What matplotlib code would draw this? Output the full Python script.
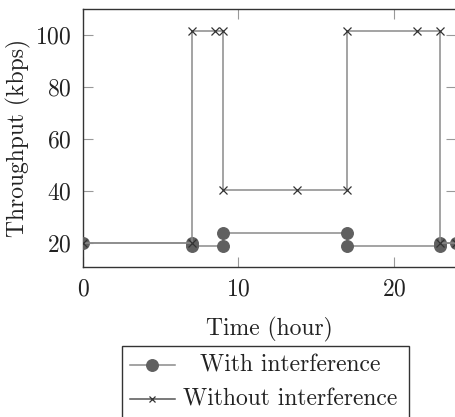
import matplotlib
matplotlib.use("Agg")
import matplotlib.pyplot as plt
from matplotlib.lines import Line2D
from matplotlib.patches import Rectangle

# Data
with_x = [0, 7, 7, 9, 9, 17, 17, 23, 23, 24]
with_y = [20, 20, 19, 19, 24, 24, 19, 19, 20, 20]
without_x = [0, 7, 7, 8.5, 9, 9, 13.8, 17, 17, 21.5, 23, 23, 24]
without_y = [20, 20, 101.5, 101.5, 101.5, 40.5, 40.5, 40.5, 101.5, 101.5, 101.5, 20, 20]
xticks = [0, 10, 20]
yticks = [20, 40, 60, 80, 100]
labels = ["With interference", "Without interference"]

plt.rcParams['font.family'] = ['cmr10', 'DejaVu Serif']
plt.rcParams['axes.formatter.use_mathtext'] = True
plt.rcParams['text.color'] = '#222222'
plt.rcParams['xtick.labelcolor'] = '#222222'
plt.rcParams['ytick.labelcolor'] = '#222222'
plt.rcParams['axes.labelcolor'] = '#222222'
FS = 17

W, H = 455, 417
fig = plt.figure(figsize=(W / 100, H / 100), dpi=100)
ax = fig.add_axes([83 / W, 1 - 267 / H, (456 - 83) / W, (267 - 9) / H])

line_col = '#8a8a8a'
circ_col = '#606060'
x_col = '#333333'

ax.plot(with_x, with_y, color=line_col, lw=1.1, marker='o', ms=8.3,
        mfc=circ_col, mec=circ_col, zorder=3)
ax.plot(without_x, without_y, color=line_col, lw=1.1, marker='x', ms=5.5,
        mec=x_col, mew=0.9, zorder=4)

ax.set_xlim(0, 24)
ax.set_ylim(10.9, 110)
ax.set_xticks(xticks)
ax.set_yticks(yticks)
ax.tick_params(direction='in', length=7, width=0.8, color='#999999',
               top=True, right=True, labelsize=FS, pad=8)
for s in ax.spines.values():
    s.set_color('#333333')
    s.set_linewidth(1.0)

ax.set_xlabel("Time (hour)", fontsize=FS, labelpad=12)
ax.set_ylabel("Throughput (kbps)", fontsize=FS, labelpad=3)

# Legend (drawn manually for centered labels)
def fx(px):
    return px / W

def fy(py):
    return 1 - py / H

fig.add_artist(Rectangle((fx(122), fy(418)), fx(409) - fx(122), fy(346) - fy(418),
                         transform=fig.transFigure, fill=False,
                         edgecolor='#333333', lw=1.0, clip_on=False))
rows = [365, 399]
fig.add_artist(Line2D([fx(130), fx(175)], [fy(rows[0])] * 2, transform=fig.transFigure,
                      color=line_col, lw=1.1))
fig.add_artist(Line2D([fx(152)], [fy(rows[0])], transform=fig.transFigure,
                      marker='o', ms=8.3, mfc=circ_col, mec=circ_col, lw=0))
fig.add_artist(Line2D([fx(130), fx(175)], [fy(rows[1])] * 2, transform=fig.transFigure,
                      color='#555555', lw=1.1))
fig.add_artist(Line2D([fx(152)], [fy(rows[1])], transform=fig.transFigure,
                      marker='x', ms=5, mec=x_col, mew=0.9, lw=0))
for lab, r in zip(labels, rows):
    fig.text(fx(290), fy(r), lab, fontsize=FS, ha='center', va='center')

fig.savefig("out.png", dpi=100)
